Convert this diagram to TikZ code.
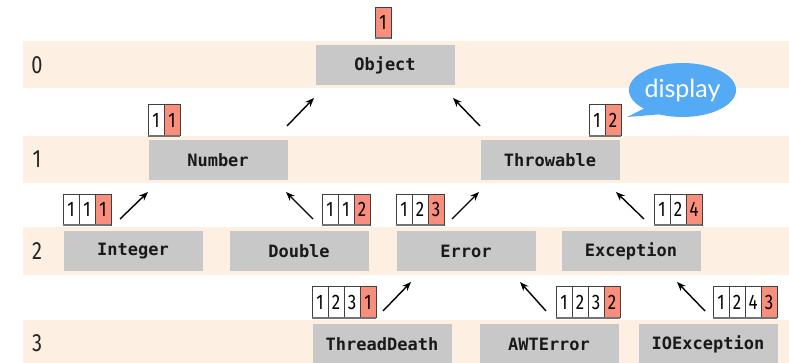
\documentclass[tikz,border=0pt]{standalone}
\usepackage{fontspec}
\setmainfont{Fira Sans}
\newfontfamily\codefont{DejaVu Sans Mono}
\newfontfamily\digitfont[FakeStretch=0.8]{Fira Sans}
\newfontfamily\bubblefont{Lato}
\usetikzlibrary{arrows.meta,shapes.geometric}

\definecolor{band}{HTML}{FDEFE1}
\definecolor{boxgray}{HTML}{C8C8C8}
\definecolor{hot}{HTML}{F98E7C}
\definecolor{bubbleblue}{HTML}{55AAF6}

\tikzset{
  cls/.style={fill=boxgray, minimum width=139pt, minimum height=40pt, inner sep=0pt,
    font=\codefont\bfseries\fontsize{17}{20}\selectfont, text=black!90},
  rowlabel/.style={font=\digitfont\fontsize{25}{26}\selectfont, text=black!85},
  cell/.style={draw=black!75, line width=0.6pt, minimum width=16pt, minimum height=31pt,
    inner sep=0pt, font=\digitfont\fontsize{21}{21}\selectfont},
  shadowline/.style={draw=black!55, line width=1.6pt},
  inherit/.style={-{Stealth[length=9pt,width=7pt]}, line width=1.4pt},
}

% a row of index cells; the last one is highlighted
% #1 name, #2 left x, #3 centre y, #4 number of cells, #5 digits
\newcommand{\seqtag}[5]{%
  \foreach \d [count=\i] in {#5} {
    \ifnum\i=#4\relax \def\cellfill{hot}\else\def\cellfill{white}\fi
    \node[cell, fill=\cellfill] (#1-\i) at ({#2+16*\i-8},#3) {\d};
  }
  \draw[shadowline] (#1-1.south west) -- (#1-#4.south east);
}

\begin{document}
\begin{tikzpicture}[x=1pt,y=-1pt]
\useasboundingbox (0,0) rectangle (789,363);

% level bands
\fill[band] (23,41) rectangle (789,88);
\fill[band] (23,136) rectangle (789,183);
\fill[band] (23,227) rectangle (789,275);
\fill[band] (23,320) rectangle (789,363);

\node[rowlabel] (lv0) at (37,65) {0};
\node[rowlabel] (lv1) at (37,159) {1};
\node[rowlabel] (lv2) at (37,251) {2};
\node[rowlabel] (lv3) at (37,343) {3};

% classes
\node[cls] (object) at (385,65) {Object};
\node[cls] (number) at (218,160) {Number};
\node[cls] (throwable) at (550,160) {Throwable};
\node[cls] (integer) at (133,251) {Integer};
\node[cls] (double) at (299,251) {Double};
\node[cls] (error) at (466,251) {Error};
\node[cls] (exception) at (631,251) {Exception};
\node[cls] (threaddeath) at (382,344) {ThreadDeath};
\node[cls] (awterror) at (549,344) {AWTError};
\node[cls] (ioexception) at (708,344) {IOException};

% index tags
\seqtag{tobj}{375}{22.5}{1}{1}
\seqtag{tnum}{148}{120}{2}{1,1}
\seqtag{tthr}{589}{120}{2}{1,2}
\seqtag{tint}{63}{209.5}{3}{1,1,1}
\seqtag{tdbl}{322}{209.5}{3}{1,1,2}
\seqtag{terr}{396}{209.5}{3}{1,2,3}
\seqtag{texc}{654}{209.5}{3}{1,2,4}
\seqtag{ttd}{312}{302}{4}{1,2,3,1}
\seqtag{tawt}{556}{302}{4}{1,2,3,2}
\seqtag{tio}{713}{302}{4}{1,2,4,3}

% inheritance arrows
\coordinate (a1s) at (287,126); \coordinate (a1e) at (314,98);
\coordinate (a2s) at (480,126); \coordinate (a2e) at (453,98);
\coordinate (a3s) at (120,219); \coordinate (a3e) at (148,192);
\coordinate (a4s) at (313,219); \coordinate (a4e) at (286,192);
\coordinate (a5s) at (452,219); \coordinate (a5e) at (479,192);
\coordinate (a6s) at (644,219); \coordinate (a6e) at (616,192);
\coordinate (a7s) at (383,311); \coordinate (a7e) at (411,282);
\coordinate (a8s) at (546,311); \coordinate (a8e) at (520,282);
\coordinate (a9s) at (705,311); \coordinate (a9e) at (677,282);
\foreach \k in {1,...,9} { \draw[inherit] (a\k s) -- (a\k e); }

% speech bubble
\node[ellipse, fill=bubbleblue, minimum width=107pt, minimum height=54pt, inner sep=0pt,
  font=\bubblefont\fontsize{25}{25}\selectfont, text=white] (bubble) at (682.5,90) {display};
\coordinate (tail) at (627,117);
\fill[bubbleblue] (645,108) -- (tail) -- (664,114) -- cycle;
\end{tikzpicture}
\end{document}
